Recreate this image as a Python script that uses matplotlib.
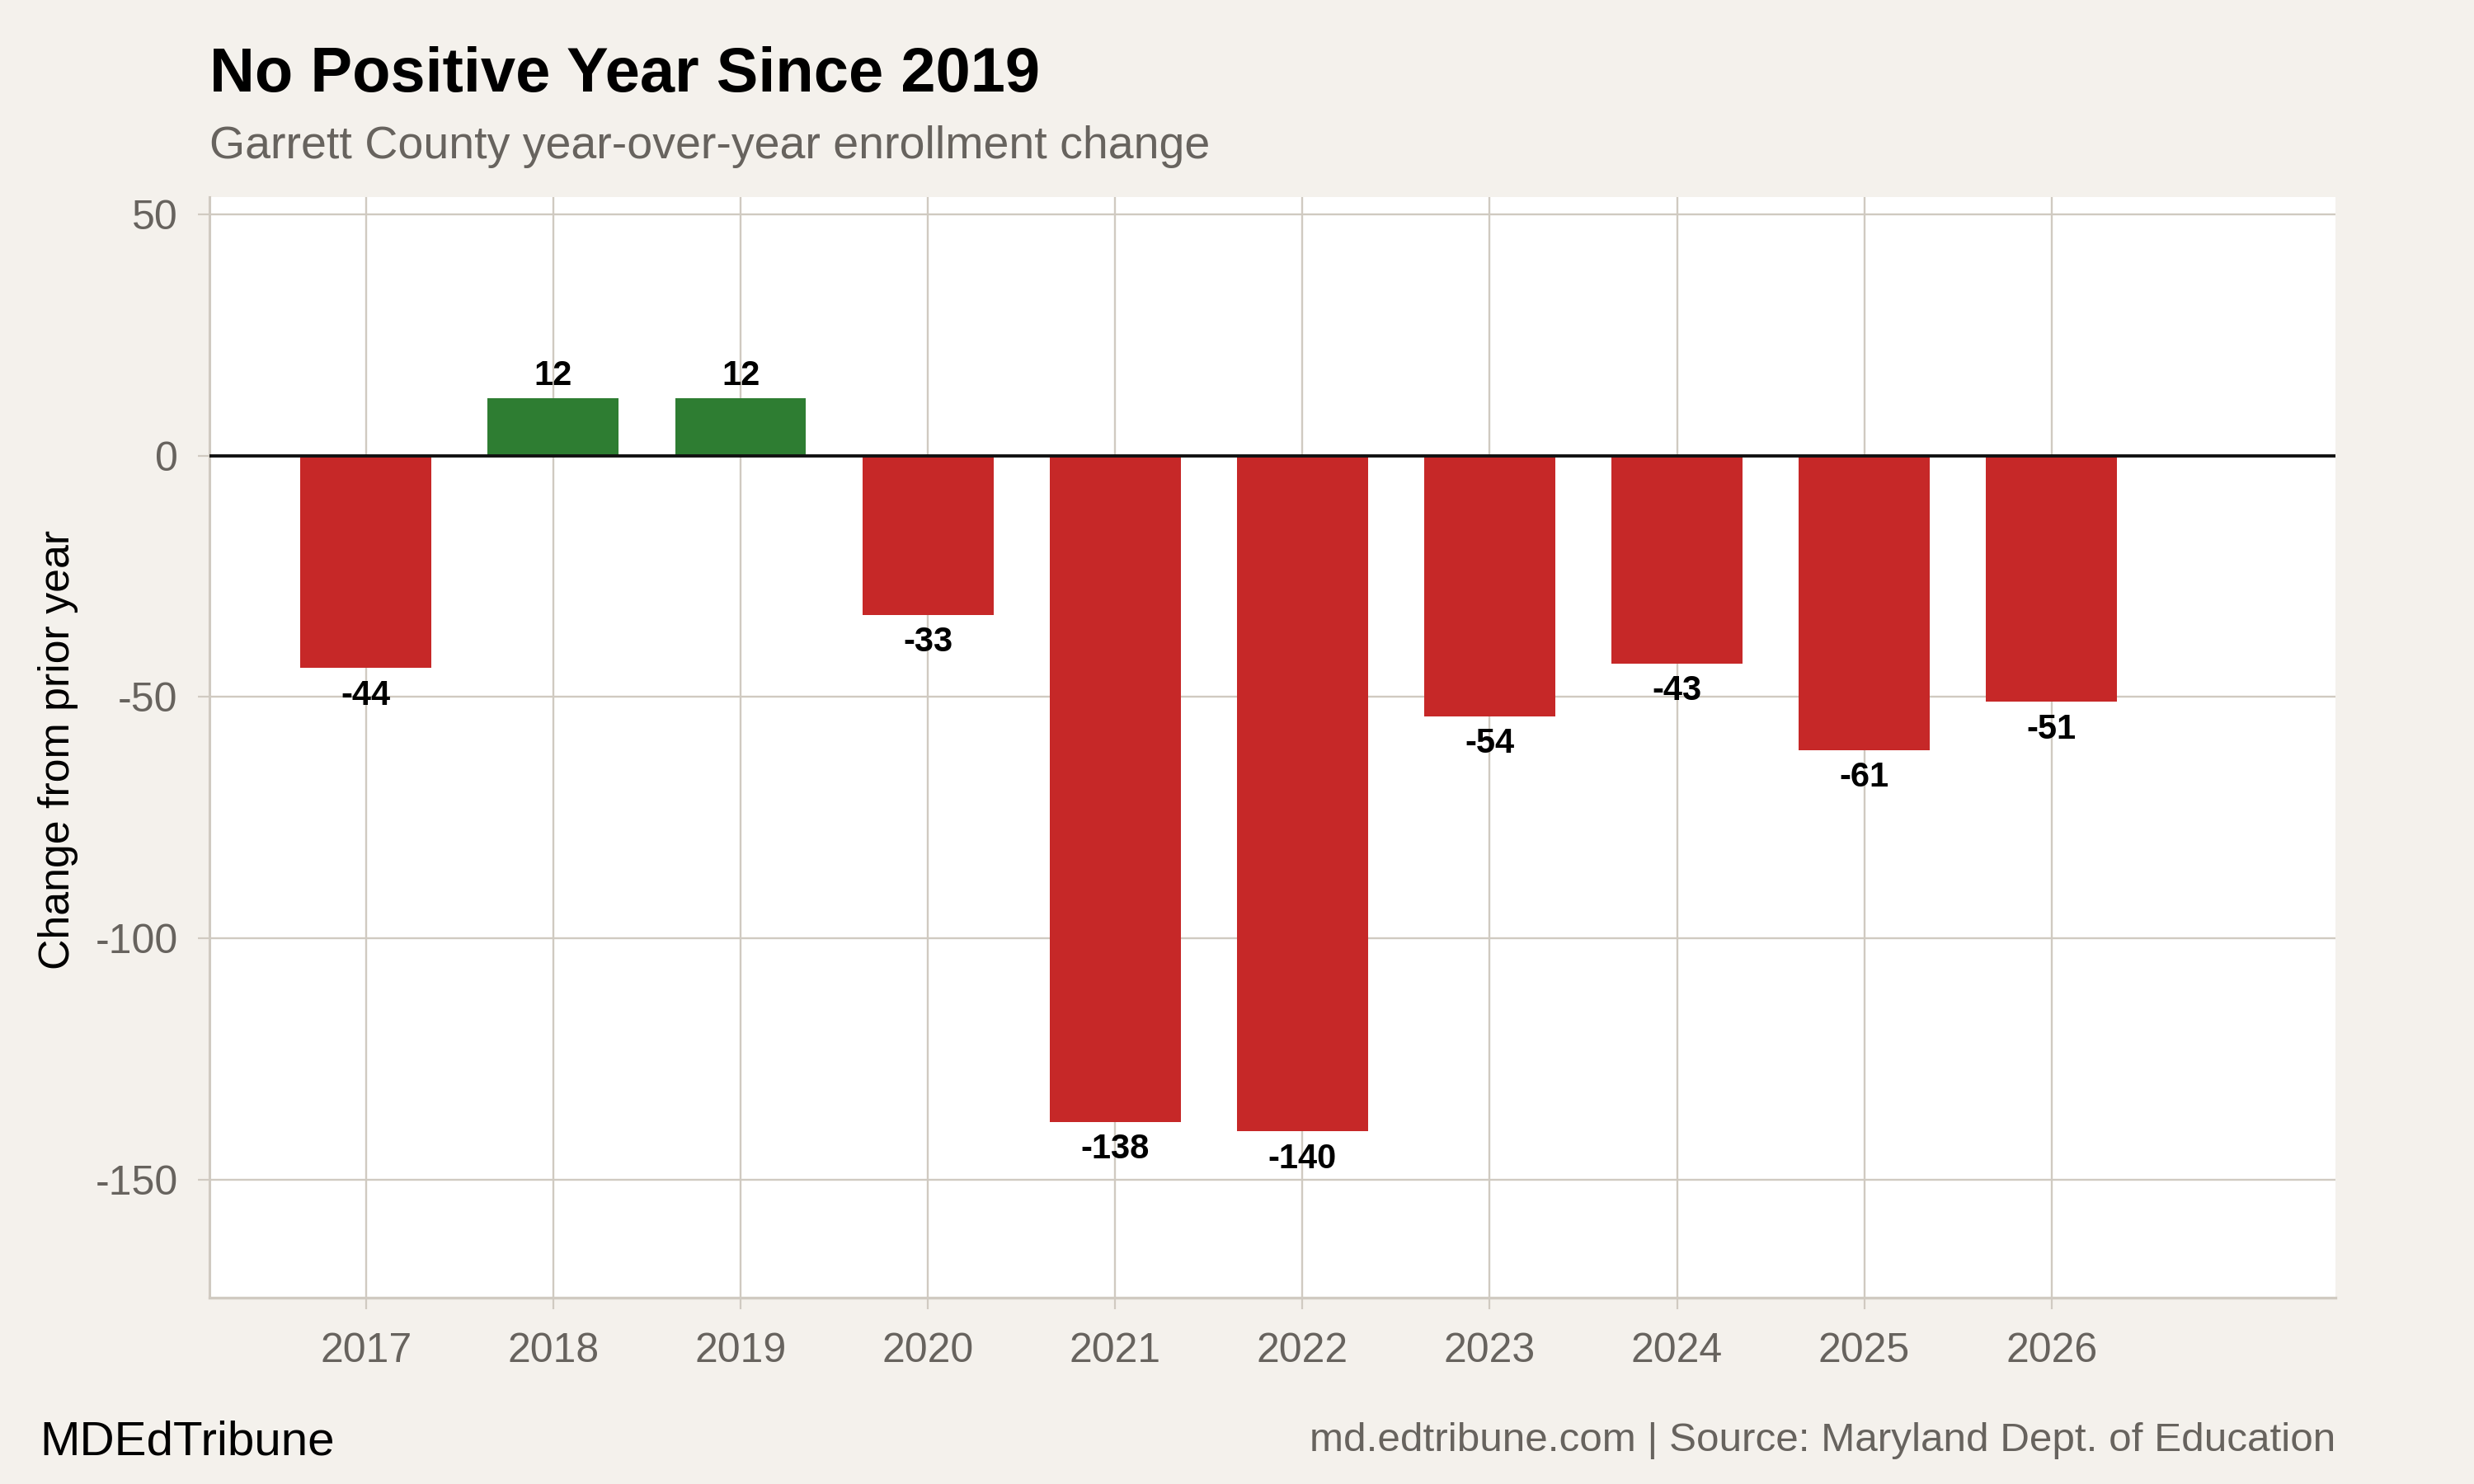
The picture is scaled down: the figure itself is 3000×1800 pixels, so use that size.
import matplotlib
matplotlib.use("Agg")
import matplotlib.pyplot as plt

plt.rcParams['font.family'] = ['Liberation Sans', 'DejaVu Sans']

years = [2017, 2018, 2019, 2020, 2021, 2022, 2023, 2024, 2025, 2026]
changes = [-44, 12, 12, -33, -138, -140, -54, -43, -61, -51]
y_ticks = [50, 0, -50, -100, -150]

title = "No Positive Year Since 2019"
subtitle = "Garrett County year-over-year enrollment change"
y_label = "Change from prior year"
brand = "MDEdTribune"
source = "md.edtribune.com | Source: Maryland Dept. of Education"

RED = "#c62828"
GREEN = "#2e7d32"
BG = "#f4f1ec"
GRID = "#d0cac1"
GRAY_TEXT = "#67635e"

fig = plt.figure(figsize=(15, 9), dpi=200, facecolor=BG)
ax = fig.add_axes([0.0848, 0.1254, 0.8592, 0.7418])
ax.set_facecolor("white")

# green for gains, red for losses
colors = [GREEN if v > 0 else RED for v in changes]
ax.bar(years, changes, width=0.7, color=colors, zorder=3)
ax.axhline(0, color="#111111", lw=1.4, zorder=4)

for x, v in zip(years, changes):
    off = 9.5 if v > 0 else -12
    ax.annotate(str(v), (x, v), xytext=(0, off), textcoords="offset points",
                ha="center", va="center", fontsize=15, fontweight="bold",
                color="black", zorder=5)

ax.set_xlim(2016.166, 2027.516)
ax.set_ylim(-174.5, 53.6)
ax.set_xticks(years)
ax.set_xticklabels([str(y) for y in years])
ax.set_yticks(y_ticks)
ax.set_yticklabels([str(t) for t in y_ticks])

ax.grid(True, color=GRID, lw=0.85, zorder=0)
ax.tick_params(axis="both", colors=GRID, labelcolor=GRAY_TEXT, labelsize=18,
               length=5, width=0.8)
ax.tick_params(axis="x", pad=10)
ax.tick_params(axis="y", pad=9)

for s in ["top", "right"]:
    ax.spines[s].set_visible(False)
ax.spines["left"].set_color(GRID)
ax.spines["left"].set_linewidth(1.1)
ax.spines["bottom"].set_color(GRID)
ax.spines["bottom"].set_linewidth(1.2)

fig.text(0.0236, 0.495, y_label, fontsize=18.7, color="black", rotation=90,
         ha="center", va="center")

fig.text(0.0848, 0.949, title, fontsize=27.3, fontweight="bold", color="black",
         ha="left", va="center")
fig.text(0.0848, 0.901, subtitle, fontsize=20, color=GRAY_TEXT,
         ha="left", va="center")
fig.text(0.016, 0.028, brand, fontsize=21, color="black", ha="left", va="center")
fig.text(0.944, 0.029, source, fontsize=17.8, color=GRAY_TEXT, ha="right", va="center")

fig.savefig("out.png", dpi=200, facecolor=BG)
